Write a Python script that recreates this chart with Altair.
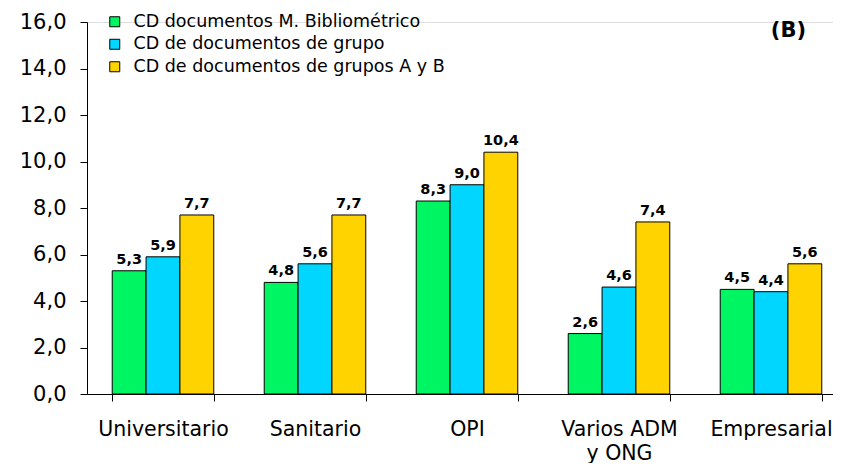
import altair as alt
import pandas as pd

categories = ["Universitario", "Sanitario", "OPI", "Varios ADM|y ONG", "Empresarial"]
series = [
    "CD documentos M. Bibliométrico",
    "CD de documentos de grupo",
    "CD de documentos de grupos A y B",
]
serie_bibliometrico = [5.3, 4.8, 8.3, 2.6, 4.5]
serie_grupo = [5.9, 5.6, 9.0, 4.6, 4.4]
serie_grupos_ab = [7.7, 7.7, 10.4, 7.4, 5.6]
colors = ["#00F562", "#00D6FF", "#FFD300"]
y_ticks = [0, 2, 4, 6, 8, 10, 12, 14, 16]

rows = []
for s, vals in zip(series, [serie_bibliometrico, serie_grupo, serie_grupos_ab]):
    for c, v in zip(categories, vals):
        rows.append({"categoria": c, "serie": s, "valor": v,
                     "etiqueta": f"{v:.1f}".replace(".", ",")})
df = pd.DataFrame(rows)

FONT = "DejaVu Sans"

x = alt.X(
    "categoria:N", sort=categories,
    scale=alt.Scale(paddingInner=0.332, paddingOuter=0.166, range=[0, 760]),
    axis=alt.Axis(title=None, labelAngle=0, labelExpr="split(datum.label, '|')",
                  tickBand="extent", tickSize=7, tickColor="black",
                  domainColor="black", labelFont=FONT, labelFontSize=20.5,
                  labelColor="black", labelPadding=18, labelLineHeight=24,
                  labelBaseline="top"),
)
xoff = alt.XOffset("serie:N", sort=series,
                   scale=alt.Scale(paddingInner=0, paddingOuter=0))
y = alt.Y(
    "valor:Q",
    scale=alt.Scale(domain=[0, 16], nice=False),
    axis=alt.Axis(title=None, values=y_ticks, grid=False,
                  labelExpr="replace(format(datum.value, '.1f'), '.', ',')",
                  tickSize=7, tickColor="black", domainColor="black",
                  labelFont=FONT, labelFontSize=21, labelColor="black",
                  labelPadding=14),
)

bars = alt.Chart(df).mark_bar(stroke="black", strokeWidth=1).encode(
    x=x, xOffset=xoff, y=y,
    color=alt.Color(
        "serie:N", sort=series,
        scale=alt.Scale(domain=series, range=colors),
        legend=alt.Legend(
            title=None, orient="none", legendX=19, legendY=-9,
            symbolType="square", symbolSize=100, symbolStrokeColor="black",
            symbolStrokeWidth=1, symbolOpacity=1, labelLimit=0,
            labelFont=FONT, labelFontSize=17.5, labelColor="black",
            labelOffset=10, rowPadding=3.5, padding=0,
        ),
    ),
)

labels = alt.Chart(df).mark_text(
    baseline="alphabetic", dy=-7, font=FONT, fontSize=14.5,
    fontWeight="bold", color="black",
).encode(x=x, xOffset=xoff, y=y, text="etiqueta:N")

chart = alt.layer(bars, labels).properties(
    width=746, height=372,
    autosize=alt.AutoSizeParams(type="none"),
    padding={"left": 79, "top": 14, "right": 0, "bottom": 69},
    title=alt.TitleParams("(B)", anchor="end", orient="top", frame="group",
                          font=FONT, fontSize=21, fontWeight="bold",
                          color="black", baseline="alphabetic", dx=-27,
                          offset=0, dy=47),
).configure_view(stroke=None).configure(background="white")

chart.save("out.html", embed_options={"renderer": "svg", "actions": False})
